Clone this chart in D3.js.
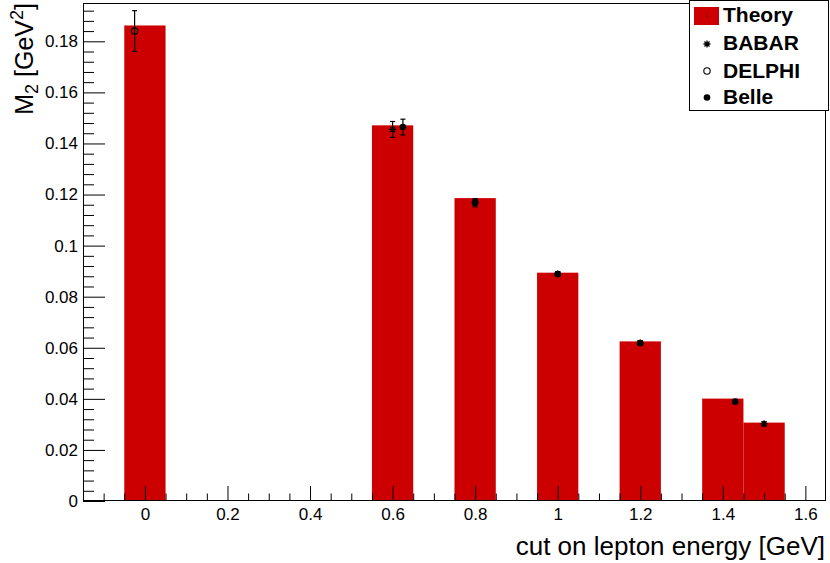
<!DOCTYPE html>
<html>
<head>
<meta charset="utf-8">
<script src="https://cdn.jsdelivr.net/npm/d3@7"></script>
<style>
  body { margin: 0; background: #fff; }
  svg { display: block; font-family: "Liberation Sans", Arial, sans-serif; }
</style>
</head>
<body>
<div id="chart"></div>
<script>
// data
var theoryX = [0, 0.6, 0.8, 1.0, 1.2, 1.4, 1.5];
var theoryY = [0.1862, 0.1471, 0.1186, 0.0894, 0.0625, 0.0401, 0.0307];
var binWidth = 0.1;

var babarX = [0.6, 0.8, 1.0, 1.2, 1.5];
var babarY = [0.1455, 0.1168, 0.0889, 0.0619, 0.0302];
var babarErr = [0.0031, 0.0016, 0.0009, 0.0008, 0.0008];

var belleX = [0.625, 0.8, 1.0, 1.2, 1.43];
var belleY = [0.1464, 0.1170, 0.0889, 0.0618, 0.0389];
var belleErr = [0.0031, 0.0012, 0.0008, 0.0007, 0.0004];

var delphiX = [-0.025];
var delphiY = [0.184];
var delphiErr = [0.008];

var xTicks = [0, 0.2, 0.4, 0.6, 0.8, 1, 1.2, 1.4, 1.6];
var xTickLabels = ["0", "0.2", "0.4", "0.6", "0.8", "1", "1.2", "1.4", "1.6"];
var yTicks = [0, 0.02, 0.04, 0.06, 0.08, 0.1, 0.12, 0.14, 0.16, 0.18];
var yTickLabels = ["0", "0.02", "0.04", "0.06", "0.08", "0.1", "0.12", "0.14", "0.16", "0.18"];
var legendNames = ["Theory", "BABAR", "DELPHI", "Belle"];

var svgWidth = 830;
var svgHeight = 563;
var margin = { top: 3, right: 4, bottom: 62, left: 83 };
var width = svgWidth - margin.left - margin.right;
var height = svgHeight - margin.top - margin.bottom;

var svg = d3.select("#chart").append("svg")
    .attr("width", svgWidth)
    .attr("height", svgHeight);

var chartGroup = svg.append("g")
    .attr("transform", `translate(${margin.left}, ${margin.top})`);

var x = d3.scaleLinear().domain([-0.15, 1.65]).range([0, width]);
var y = d3.scaleLinear().domain([0, 0.195]).range([height, 0]);

// bars
chartGroup.selectAll("rect.bar")
    .data(theoryX.map((d, i) => ({ x: d, y: theoryY[i] })))
    .enter().append("rect")
    .attr("class", "bar")
    .attr("x", d => x(d.x - binWidth / 2))
    .attr("width", d => x(d.x + binWidth / 2) - x(d.x - binWidth / 2))
    .attr("y", d => y(d.y))
    .attr("height", d => height - y(d.y))
    .attr("fill", "#cc0000");

// minor ticks
var yMinor = d3.range(0, 0.1935, 0.004).filter(v => !yTicks.some(t => Math.abs(t - v) < 1e-6));
var xMinor = d3.range(-0.1, 1.62, 0.05).filter(v => !xTicks.some(t => Math.abs(t - v) < 1e-6));

chartGroup.append("g")
    .call(d3.axisLeft(y).tickValues(yMinor).tickSizeInner(-11).tickSizeOuter(0).tickFormat(""))
    .call(g => g.select(".domain").remove());
chartGroup.append("g")
    .attr("transform", `translate(0, ${height})`)
    .call(d3.axisBottom(x).tickValues(xMinor).tickSizeInner(-7.5).tickSizeOuter(0).tickFormat(""))
    .call(g => g.select(".domain").remove());

// major axes
var leftAxis = d3.axisLeft(y).tickValues(yTicks).tickSizeInner(-22).tickSizeOuter(0)
    .tickPadding(5).tickFormat((d, i) => yTickLabels[i]);
var bottomAxis = d3.axisBottom(x).tickValues(xTicks).tickSizeInner(-15).tickSizeOuter(0)
    .tickPadding(7).tickFormat((d, i) => xTickLabels[i]);

chartGroup.append("g").attr("class", "yaxis").call(leftAxis);
chartGroup.append("g").attr("class", "xaxis")
    .attr("transform", `translate(0, ${height})`)
    .call(bottomAxis);

chartGroup.selectAll(".tick line").attr("stroke", "#000");
chartGroup.selectAll(".tick text")
    .attr("font-size", "17px")
    .attr("font-family", "Liberation Sans, Arial, sans-serif")
    .attr("fill", "#000");
chartGroup.selectAll(".domain").remove();

// frame
chartGroup.append("rect")
    .attr("x", 0.5).attr("y", 0.5)
    .attr("width", width - 1).attr("height", height - 1)
    .attr("fill", "none").attr("stroke", "#000").attr("stroke-width", 1);

// error bars
function errorBars(xs, ys, es) {
    var g = chartGroup.append("g");
    xs.forEach(function (xv, i) {
        var cx = x(xv);
        g.append("line")
            .attr("x1", cx).attr("x2", cx)
            .attr("y1", y(ys[i] - es[i])).attr("y2", y(ys[i] + es[i]))
            .attr("stroke", "#000").attr("stroke-width", 1.2);
        [ys[i] - es[i], ys[i] + es[i]].forEach(function (v) {
            g.append("line")
                .attr("x1", cx - 2.5).attr("x2", cx + 2.5)
                .attr("y1", y(v)).attr("y2", y(v))
                .attr("stroke", "#000").attr("stroke-width", 1.2);
        });
    });
}
errorBars(delphiX, delphiY, delphiErr);
errorBars(babarX, babarY, babarErr);
errorBars(belleX, belleY, belleErr);

function starPath(cx, cy, r) {
    var d = r * 0.72;
    return `M${cx - r},${cy}L${cx + r},${cy}M${cx},${cy - r}L${cx},${cy + r}` +
        `M${cx - d},${cy - d}L${cx + d},${cy + d}M${cx - d},${cy + d}L${cx + d},${cy - d}`;
}

// BABAR stars
chartGroup.selectAll("path.babar")
    .data(babarX.map((d, i) => [d, babarY[i]]))
    .enter().append("path")
    .attr("class", "babar")
    .attr("d", d => starPath(x(d[0]), y(d[1]), 3.5))
    .attr("stroke", "#000").attr("stroke-width", 1.3).attr("fill", "none");

// Belle dots
chartGroup.selectAll("circle.belle")
    .data(belleX.map((d, i) => [d, belleY[i]]))
    .enter().append("circle")
    .attr("class", "belle")
    .attr("cx", d => x(d[0]))
    .attr("cy", d => y(d[1]))
    .attr("r", 3.3)
    .attr("fill", "#000");

// DELPHI open circles
chartGroup.selectAll("circle.delphi")
    .data(delphiX.map((d, i) => [d, delphiY[i]]))
    .enter().append("circle")
    .attr("class", "delphi")
    .attr("cx", d => x(d[0]))
    .attr("cy", d => y(d[1]))
    .attr("r", 3.2)
    .attr("fill", "none")
    .attr("stroke", "#000")
    .attr("stroke-width", 1.1);

// axis titles
svg.append("text")
    .attr("x", 825)
    .attr("y", 555)
    .attr("text-anchor", "end")
    .attr("font-size", "26px")
    .attr("fill", "#000")
    .text("cut on lepton energy [GeV]");

var yTitle = svg.append("text")
    .attr("transform", "translate(33, 3) rotate(-90)")
    .attr("text-anchor", "end")
    .attr("font-size", "25px")
    .attr("fill", "#000");
yTitle.append("tspan").text("M");
yTitle.append("tspan").attr("font-size", "18px").attr("dy", 5).text("2");
yTitle.append("tspan").attr("dy", -5).text(" [GeV");
yTitle.append("tspan").attr("font-size", "18px").attr("dy", -10).text("2");
yTitle.append("tspan").attr("dy", 10).text("]");

// legend
var legend = svg.append("g");
legend.append("rect")
    .attr("x", 689.5).attr("y", 0.5)
    .attr("width", 139).attr("height", 110)
    .attr("fill", "#fff").attr("stroke", "#000").attr("stroke-width", 1);

var legendBase = [21.5, 50, 77.5, 104];
legend.selectAll("text")
    .data(legendNames)
    .enter().append("text")
    .attr("x", 723)
    .attr("y", (d, i) => legendBase[i])
    .attr("font-size", "21px")
    .attr("font-weight", "bold")
    .attr("fill", "#000")
    .text(d => d);

legend.append("rect")
    .attr("x", 694).attr("y", 7)
    .attr("width", 25).attr("height", 18)
    .attr("fill", "#cc0000");
legend.append("rect")
    .attr("x", 706).attr("y", 15.5).attr("width", 1.5).attr("height", 1.5)
    .attr("fill", "#550000");
legend.append("path")
    .attr("d", starPath(707, 44, 3.5))
    .attr("stroke", "#000").attr("stroke-width", 1.3).attr("fill", "none");
legend.append("circle")
    .attr("cx", 707).attr("cy", 71).attr("r", 3.2)
    .attr("fill", "none").attr("stroke", "#000").attr("stroke-width", 1.1);
legend.append("circle")
    .attr("cx", 707).attr("cy", 97.5).attr("r", 3.3)
    .attr("fill", "#000");
</script>
</body>
</html>
